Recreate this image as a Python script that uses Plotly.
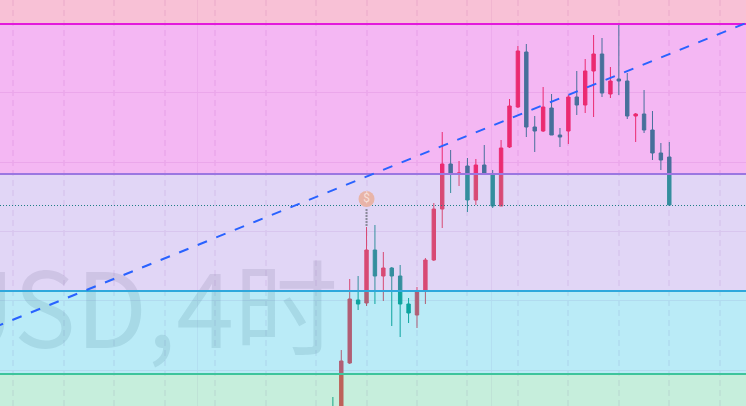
import plotly.graph_objects as go

# Bars, price scale is arbitrary (chart has no visible axis)
bars = list(range(41))
opens = [-2, -9, 43, 106, 103, 156, 130, 138, 130, 102, 91, 116, 146, 197, 242, 232, 240, 206, 241, 232, 200,
         259, 299, 354, 279, 275, 298, 271, 275, 309, 301, 335, 352, 312, 327, 325, 290, 292, 276, 253, 249]
highs = [9, 56, 127, 130, 179, 181, 154, 139, 141, 108, 119, 148, 203, 274, 256, 245, 248, 247, 261, 236, 266,
         307, 360, 362, 290, 319, 312, 278, 311, 335, 347, 371, 368, 339, 381, 333, 293, 316, 295, 263, 264]
lows = [-6, -14, 42, 96, 100, 102, 105, 80, 69, 83, 78, 102, 145, 178, 213, 220, 194, 201, 232, 198, 200,
        258, 298, 269, 254, 274, 271, 259, 262, 291, 293, 289, 309, 308, 311, 287, 264, 273, 246, 236, 201]
closes = [-4, 45, 107, 102, 156, 130, 138, 130, 102, 93, 114, 146, 197, 242, 232, 233, 206, 241, 232, 200, 258,
          300, 355, 279, 275, 299, 271, 269, 309, 301, 335, 352, 313, 325, 325, 290, 292, 276, 253, 246, 201]

# Visible window
x_range = [-39.58, 49.12]
y_range = [0, 406]

# Fib levels and the colours of the zones between them
levels = [382, 232, 115, 32]
level_colors = ['#E21ADB', '#9B76E1', '#2EA8DC', '#3EC49C']
zone_edges = [406, 382, 232, 115, 32, 0]
zone_colors = ['rgba(233,50,120,0.3)', 'rgba(218,18,215,0.3)', 'rgba(155,118,225,0.3)',
               'rgba(25,188,228,0.3)', 'rgba(65,198,138,0.3)']

# Trend line starts a bit left of the window so the dashes fall in the same place
trend_x = [-40.32, 49.12]
trend_y = [78.5, 383]
last_price = 200.5
dividend_bar = 4
dividend_y = 207
dividend_stem = [180, 198]
watermark = 'USD,4时'

data = []
data.append(go.Candlestick(x=bars, open=opens, high=highs, low=lows, close=closes, whiskerwidth=0,
                           increasing=dict(line=dict(color='#F23645', width=1), fillcolor='#F23645'),
                           decreasing=dict(line=dict(color='#089981', width=1), fillcolor='#089981'),
                           hoverinfo='skip'))

# Watermark goes under the zones
data.append(go.Scatter(x=[0.6], y=[84], mode='text', text=[watermark], textposition='middle left',
                       textfont=dict(family='Noto Sans CJK SC', size=104, color='rgba(120,123,134,0.2)'),
                       hoverinfo='skip'))

# Zones are drawn over the candles, that is why the candles change colour
for i in range(len(zone_colors)):
    data.append(go.Scatter(x=[x_range[0], x_range[1], x_range[1], x_range[0]],
                           y=[zone_edges[i], zone_edges[i], zone_edges[i + 1], zone_edges[i + 1]],
                           mode='lines', fill='toself', fillcolor=zone_colors[i], line=dict(width=0),
                           hoverinfo='skip'))

for level, color in zip(levels, level_colors):
    data.append(go.Scatter(x=x_range, y=[level, level], mode='lines', line=dict(color=color, width=2),
                           hoverinfo='skip'))

data.append(go.Scatter(x=x_range, y=[last_price, last_price], mode='lines',
                       line=dict(color='#1F7F86', width=1, dash='1px,2px'), hoverinfo='skip'))
data.append(go.Scatter(x=trend_x, y=trend_y, mode='lines', line=dict(color='#2962FF', width=2, dash='10px,10px'),
                       hoverinfo='skip'))

# Dividend marker
data.append(go.Scatter(x=[dividend_bar, dividend_bar], y=dividend_stem, mode='lines',
                       line=dict(color='#8A8A9A', width=2, dash='2px,1px'), hoverinfo='skip'))
data.append(go.Scatter(x=[dividend_bar], y=[dividend_y], mode='markers+text', text=['$'],
                       textposition='middle center', textfont=dict(family='Roboto', size=12, color='#F7DFD8'),
                       marker=dict(size=16, color='#E8B4A8'), hoverinfo='skip'))

layout = go.Layout(width=746, height=406, margin=dict(l=0, r=0, t=0, b=0), showlegend=False,
                   paper_bgcolor='white', plot_bgcolor='white', boxgap=0.42,
                   xaxis=dict(range=x_range, showticklabels=False, ticks='', zeroline=False, rangeslider=dict(visible=False),
                              showgrid=True, tick0=4, dtick=6, gridcolor='#F5EEF7', gridwidth=2, griddash='6px,4px',
                              minor=dict(tick0=18.9, dtick=35, showgrid=True, gridcolor='#F5EEF7', gridwidth=1, griddash='solid')),
                   yaxis=dict(range=y_range, showticklabels=False, ticks='', zeroline=False,
                              showgrid=True, tick0=36, dtick=69.3, gridcolor='#F2E8F4', gridwidth=1))

fig = go.Figure(data=data, layout=layout)
fig.write_html("out.html", config=dict(displayModeBar=False), post_script="document.body.style.margin='0';")
